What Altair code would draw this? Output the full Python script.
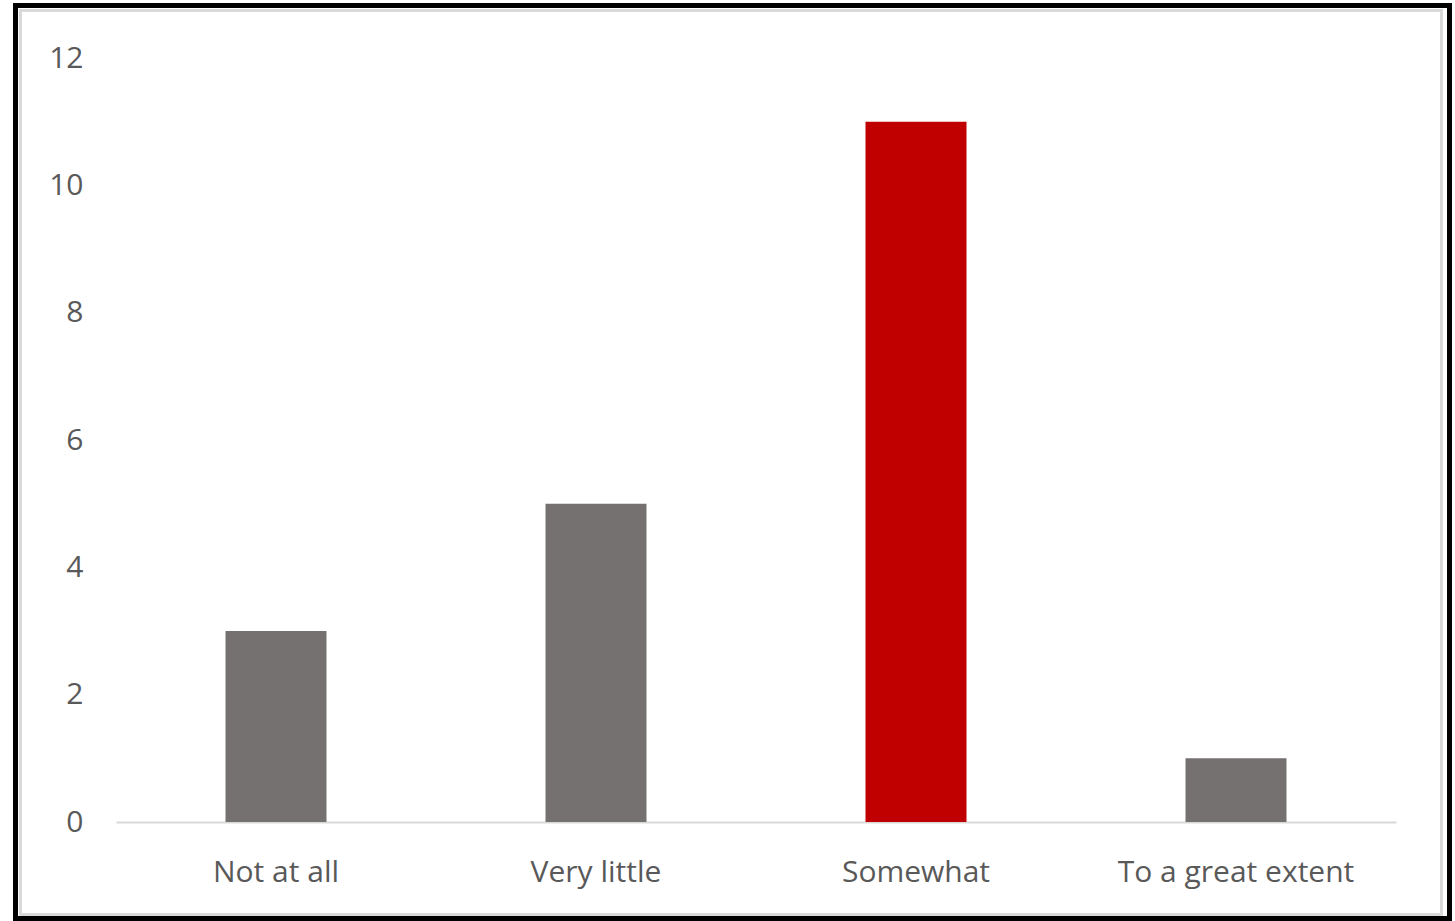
import altair as alt
import pandas as pd

categories = ["Not at all", "Very little", "Somewhat", "To a great extent"]
values = [3, 5, 11, 1]
colors = ["#767171", "#767171", "#C00000", "#767171"]

df = pd.DataFrame({"cat": categories, "val": values, "color": colors})

bars = alt.Chart(df).mark_bar(size=101).encode(
    x=alt.X("cat:N", sort=categories, title=None,
            scale=alt.Scale(paddingInner=0, paddingOuter=0),
            axis=alt.Axis(labelAngle=0, ticks=False, domainColor="#D9D9D9",
                          domainWidth=2, labelFontSize=30, labelColor="#595959",
                          labelFont="Open Sans", labelPadding=35, labelLimit=0)),
    y=alt.Y("val:Q", title=None,
            scale=alt.Scale(domain=[0, 12], nice=False),
            axis=alt.Axis(values=[0, 2, 4, 6, 8, 10, 12], domain=False, ticks=False,
                          grid=False, labelFontSize=30, labelColor="#595959",
                          labelFont="Open Sans", labelPadding=33)),
    color=alt.Color("color:N", scale=None),
)

frame_data = alt.Data(values=[{}])
outer = alt.Chart(frame_data).mark_rect(fill=None, stroke="black", strokeWidth=5).encode(
    x=alt.value(-100.5), x2=alt.value(1333.5), y=alt.value(-52.5), y2=alt.value(860.5)
)
inner = alt.Chart(frame_data).mark_rect(fill=None, stroke="#D9D9D9", strokeWidth=3).encode(
    x=alt.value(-95.5), x2=alt.value(1325.5), y=alt.value(-47.5), y2=alt.value(856.5)
)

chart = alt.layer(inner, outer, bars).properties(
    width=1280, height=764,
    autosize=alt.AutoSizeParams(type="none"),
    padding={"left": 116, "top": 58, "right": 59, "bottom": 99},
    background="white",
).configure_view(stroke=None)

chart.save("out.html", embed_options={"renderer": "svg", "actions": False})
